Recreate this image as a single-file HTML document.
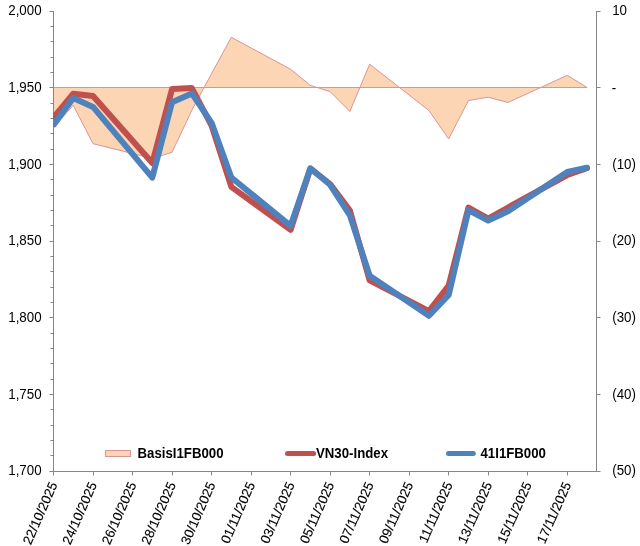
<!DOCTYPE html>
<html lang="vi"><head><meta charset="utf-8"><title>VN30-Index / 41I1FB000 / Basis</title>
<style>html,body{margin:0;padding:0;background:#fff;}body{width:640px;height:546px;overflow:hidden;}svg{display:block;}text{font-family:"Liberation Sans", Arial, sans-serif;font-size:13.33px;fill:#000;}.b{font-weight:bold;}.r{stroke:#000;stroke-width:0.12px;}</style></head><body>
<svg width="640" height="546" viewBox="0 0 640 546" role="img" aria-label="VN30-Index, 41I1FB000, BasisI1FB000">
<rect width="640" height="546" fill="#fff"/>
<polygon points="53.50,87.5 53.50,127.50 73.26,105.30 93.02,143.70 152.30,158.40 172.06,152.30 191.82,110.30 211.58,73.60 231.34,37.30 290.62,69.30 310.38,85.40 330.14,91.60 349.90,111.50 369.66,64.20 428.94,110.50 448.70,138.90 468.46,100.50 488.22,97.20 507.98,102.50 567.26,75.30 587.02,87.40 587.02,87.5" fill="#FCD5B5" stroke="#D99694" stroke-width="1" stroke-linejoin="round"/>
<g stroke="#868686" stroke-width="1" fill="none"><line x1="53.5" y1="11.0" x2="53.5" y2="472.0"/><line x1="596.5" y1="11.0" x2="596.5" y2="472.0"/><line x1="53.0" y1="471.5" x2="597.0" y2="471.5"/><line x1="49.5" y1="11.5" x2="53.5" y2="11.5"/><line x1="50.5" y1="26.5" x2="53.5" y2="26.5"/><line x1="50.5" y1="41.5" x2="53.5" y2="41.5"/><line x1="50.5" y1="57.5" x2="53.5" y2="57.5"/><line x1="50.5" y1="72.5" x2="53.5" y2="72.5"/><line x1="49.5" y1="87.5" x2="53.5" y2="87.5"/><line x1="50.5" y1="103.5" x2="53.5" y2="103.5"/><line x1="50.5" y1="118.5" x2="53.5" y2="118.5"/><line x1="50.5" y1="133.5" x2="53.5" y2="133.5"/><line x1="50.5" y1="149.5" x2="53.5" y2="149.5"/><line x1="49.5" y1="164.5" x2="53.5" y2="164.5"/><line x1="50.5" y1="179.5" x2="53.5" y2="179.5"/><line x1="50.5" y1="195.5" x2="53.5" y2="195.5"/><line x1="50.5" y1="210.5" x2="53.5" y2="210.5"/><line x1="50.5" y1="225.5" x2="53.5" y2="225.5"/><line x1="49.5" y1="241.5" x2="53.5" y2="241.5"/><line x1="50.5" y1="256.5" x2="53.5" y2="256.5"/><line x1="50.5" y1="271.5" x2="53.5" y2="271.5"/><line x1="50.5" y1="287.5" x2="53.5" y2="287.5"/><line x1="50.5" y1="302.5" x2="53.5" y2="302.5"/><line x1="49.5" y1="317.5" x2="53.5" y2="317.5"/><line x1="50.5" y1="333.5" x2="53.5" y2="333.5"/><line x1="50.5" y1="348.5" x2="53.5" y2="348.5"/><line x1="50.5" y1="363.5" x2="53.5" y2="363.5"/><line x1="50.5" y1="379.5" x2="53.5" y2="379.5"/><line x1="49.5" y1="394.5" x2="53.5" y2="394.5"/><line x1="50.5" y1="409.5" x2="53.5" y2="409.5"/><line x1="50.5" y1="425.5" x2="53.5" y2="425.5"/><line x1="50.5" y1="440.5" x2="53.5" y2="440.5"/><line x1="50.5" y1="455.5" x2="53.5" y2="455.5"/><line x1="49.5" y1="471.5" x2="53.5" y2="471.5"/><line x1="596.5" y1="11.5" x2="600.5" y2="11.5"/><line x1="596.5" y1="87.5" x2="600.5" y2="87.5"/><line x1="596.5" y1="164.5" x2="600.5" y2="164.5"/><line x1="596.5" y1="241.5" x2="600.5" y2="241.5"/><line x1="596.5" y1="317.5" x2="600.5" y2="317.5"/><line x1="596.5" y1="394.5" x2="600.5" y2="394.5"/><line x1="596.5" y1="471.5" x2="600.5" y2="471.5"/><line x1="53.5" y1="471.5" x2="53.5" y2="475.5"/><line x1="93.5" y1="471.5" x2="93.5" y2="475.5"/><line x1="132.5" y1="471.5" x2="132.5" y2="475.5"/><line x1="172.5" y1="471.5" x2="172.5" y2="475.5"/><line x1="211.5" y1="471.5" x2="211.5" y2="475.5"/><line x1="251.5" y1="471.5" x2="251.5" y2="475.5"/><line x1="290.5" y1="471.5" x2="290.5" y2="475.5"/><line x1="330.5" y1="471.5" x2="330.5" y2="475.5"/><line x1="369.5" y1="471.5" x2="369.5" y2="475.5"/><line x1="409.5" y1="471.5" x2="409.5" y2="475.5"/><line x1="448.5" y1="471.5" x2="448.5" y2="475.5"/><line x1="488.5" y1="471.5" x2="488.5" y2="475.5"/><line x1="527.5" y1="471.5" x2="527.5" y2="475.5"/><line x1="567.5" y1="471.5" x2="567.5" y2="475.5"/></g>
<svg x="53" y="0" width="544" height="472" viewBox="53 0 544 472" overflow="hidden"><g fill="none" stroke-linejoin="round" stroke-linecap="round" stroke-width="6">
<polyline points="53.50,117.50 73.26,93.70 93.02,96.00 152.30,163.00 172.06,88.90 191.82,88.10 211.58,125.60 231.34,186.90 290.62,229.80 310.38,168.70 330.14,184.00 349.90,210.60 369.66,280.40 428.94,311.20 448.70,285.50 468.46,207.60 488.22,218.60 507.98,207.50 567.26,175.00 587.02,168.20" stroke="#C0504D"/>
<polyline points="53.95,124.39 73.26,98.00 93.02,106.90 152.30,177.60 172.06,102.20 191.82,93.40 211.58,122.80 231.34,177.50 290.62,225.80 310.38,168.30 330.14,184.80 349.90,215.40 369.66,275.80 428.94,315.80 448.70,295.00 468.46,210.20 488.22,220.50 507.98,211.20 567.26,172.00 587.02,167.80" stroke="#4F81BD"/>
</g></svg>
<text transform="translate(41.6,15) scale(1,1.07)" text-anchor="end">2,000</text>
<text transform="translate(41.6,92) scale(1,1.07)" text-anchor="end">1,950</text>
<text transform="translate(41.6,169) scale(1,1.07)" text-anchor="end">1,900</text>
<text transform="translate(41.6,245) scale(1,1.07)" text-anchor="end">1,850</text>
<text transform="translate(41.6,322) scale(1,1.07)" text-anchor="end">1,800</text>
<text transform="translate(41.6,399) scale(1,1.07)" text-anchor="end">1,750</text>
<text transform="translate(41.6,475) scale(1,1.07)" text-anchor="end">1,700</text>
<text transform="translate(612.2,15) scale(1,1.07)">10</text>
<text transform="translate(611.8000000000001,93) scale(1,1.07)">-</text>
<text transform="translate(612.2,169) scale(1,1.07)">(10)</text>
<text transform="translate(612.2,245) scale(1,1.07)">(20)</text>
<text transform="translate(612.2,322) scale(1,1.07)">(30)</text>
<text transform="translate(612.2,399) scale(1,1.07)">(40)</text>
<text transform="translate(612.2,475) scale(1,1.07)">(50)</text>
<text transform="translate(57.80,484.5) rotate(-66)" text-anchor="end" class="r">22/10/2025</text>
<text transform="translate(97.32,484.5) rotate(-66)" text-anchor="end" class="r">24/10/2025</text>
<text transform="translate(136.84,484.5) rotate(-66)" text-anchor="end" class="r">26/10/2025</text>
<text transform="translate(176.36,484.5) rotate(-66)" text-anchor="end" class="r">28/10/2025</text>
<text transform="translate(215.88,484.5) rotate(-66)" text-anchor="end" class="r">30/10/2025</text>
<text transform="translate(255.40,484.5) rotate(-66)" text-anchor="end" class="r">01/11/2025</text>
<text transform="translate(294.92,484.5) rotate(-66)" text-anchor="end" class="r">03/11/2025</text>
<text transform="translate(334.44,484.5) rotate(-66)" text-anchor="end" class="r">05/11/2025</text>
<text transform="translate(373.96,484.5) rotate(-66)" text-anchor="end" class="r">07/11/2025</text>
<text transform="translate(413.48,484.5) rotate(-66)" text-anchor="end" class="r">09/11/2025</text>
<text transform="translate(453.00,484.5) rotate(-66)" text-anchor="end" class="r">11/11/2025</text>
<text transform="translate(492.52,484.5) rotate(-66)" text-anchor="end" class="r">13/11/2025</text>
<text transform="translate(532.04,484.5) rotate(-66)" text-anchor="end" class="r">15/11/2025</text>
<text transform="translate(571.56,484.5) rotate(-66)" text-anchor="end" class="r">17/11/2025</text>
<rect x="105.5" y="450.5" width="25" height="6" fill="#FCD5B5" stroke="#D99694" stroke-width="1"/>
<text class="b" transform="translate(137.5,457.8) scale(0.992,1.07)">BasisI1FB000</text>
<line x1="287.5" y1="453.4" x2="313.6" y2="453.4" stroke="#C0504D" stroke-width="5" stroke-linecap="round"/>
<text class="b" transform="translate(316,457.8) scale(0.992,1.07)">VN30-Index</text>
<line x1="448.5" y1="453.4" x2="473.3" y2="453.4" stroke="#4F81BD" stroke-width="5" stroke-linecap="round"/>
<text class="b" transform="translate(480.5,457.8) scale(0.992,1.07)">41I1FB000</text>
</svg></body></html>
